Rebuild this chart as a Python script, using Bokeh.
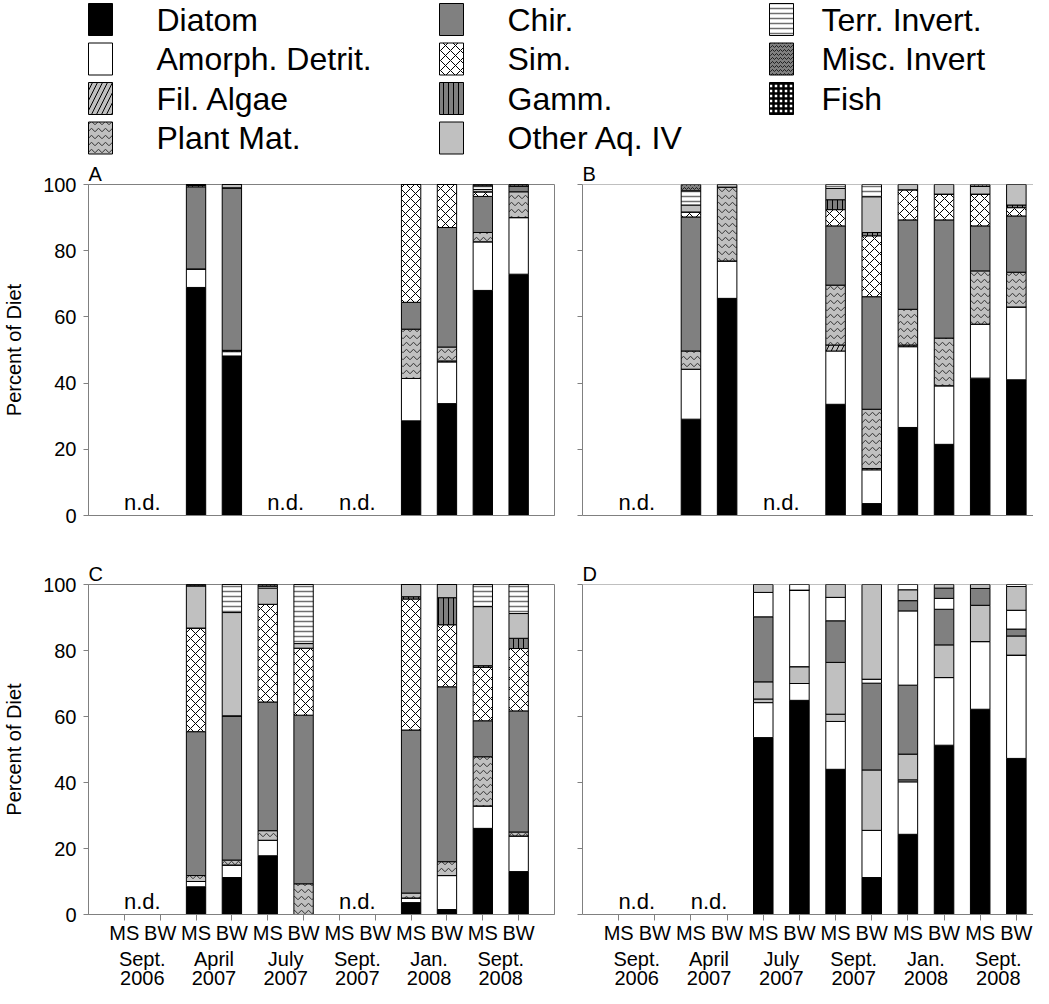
import math
from bokeh.plotting import figure
from bokeh.layouts import column, row
from bokeh.models import ColumnDataSource, Range1d, FixedTicker, LinearAxis, Span
from bokeh.embed import file_html
from bokeh.resources import INLINE
from bokeh.core.properties import value

FONT = "Liberation Sans"
GRAY = "#808080"

CATEGORIES = ["Diatom", "Amorph. Detrit.", "Fil. Algae", "Plant Mat.", "Chir.", "Sim.",
              "Gamm.", "Other Aq. IV", "Terr. Invert.", "Misc. Invert", "Fish"]
KEYS = ["diatom", "amorph", "fil", "plant", "chir", "sim", "gamm", "other", "terr", "misc", "fish"]
SITE_LABELS = ["MS", "BW"] * 6
MONTH_LABELS = ["Sept.", "April", "July", "Sept.", "Jan.", "Sept."]
YEAR_LABELS = ["2006", "2007", "2007", "2007", "2008", "2008"]
Y_TICKS = [0, 20, 40, 60, 80, 100]

# 12 slots: Sept06 MS, Sept06 BW, Apr07 MS, Apr07 BW, Jul07 MS, Jul07 BW,
#           Sept07 MS, Sept07 BW, Jan08 MS, Jan08 BW, Sept08 MS, Sept08 BW
# ---- Panel A ----
A_ND = [0, 2, 3]
A_DIATOM = [0, 0, 68.9, 48.2, 0, 0, 0, 0, 28.6, 33.8, 68.0, 72.9]
A_AMORPH = [0, 0, 5.6, 1.3, 0, 0, 0, 0, 12.8, 12.6, 14.7, 17.1]
A_FIL = [0, 0, 0, 0.4, 0, 0, 0, 0, 0, 0.3, 0, 0]
A_PLANT = [0, 0, 0, 0, 0, 0, 0, 0, 14.9, 4.2, 2.8, 7.8]
A_CHIR = [0, 0, 24.8, 49.1, 0, 0, 0, 0, 8.1, 36.1, 10.9, 1.7]
A_SIM = [0, 0, 0.4, 0, 0, 0, 0, 0, 35.6, 13.0, 1.4, 0]
A_GAMM = [0, 0, 0, 0, 0, 0, 0, 0, 0, 0, 0, 0]
A_OTHER = [0, 0, 0.3, 1.0, 0, 0, 0, 0, 0, 0, 0.7, 0]
A_TERR = [0, 0, 0, 0, 0, 0, 0, 0, 0, 0, 1.1, 0]
A_MISC = [0, 0, 0, 0, 0, 0, 0, 0, 0, 0, 0.4, 0.5]
A_FISH = [0, 0, 0, 0, 0, 0, 0, 0, 0, 0, 0, 0]

# ---- Panel B ----
B_ND = [0, 2]
B_DIATOM = [0, 0, 29.1, 65.6, 0, 0, 33.6, 3.6, 26.6, 21.5, 41.5, 41.0]
B_AMORPH = [0, 0, 15.1, 11.3, 0, 0, 16.1, 10.2, 24.4, 17.7, 16.3, 22.0]
B_FIL = [0, 0, 0, 0, 0, 0, 1.8, 0.4, 0.5, 0, 0, 0]
B_PLANT = [0, 0, 5.5, 22.3, 0, 0, 18.1, 17.9, 10.8, 14.4, 16.1, 10.5]
B_CHIR = [0, 0, 40.5, 0, 0, 0, 17.9, 34.0, 27.0, 35.7, 13.6, 17.0]
B_SIM = [0, 0, 1.5, 0, 0, 0, 4.9, 18.4, 9.1, 7.8, 9.6, 2.5]
B_GAMM = [0, 0, 0, 0, 0, 0, 3.0, 1.0, 0, 0, 0, 0.8]
B_OTHER = [0, 0, 2.1, 0.8, 0, 0, 3.4, 10.8, 1.6, 2.9, 2.3, 6.2]
B_TERR = [0, 0, 4.3, 0, 0, 0, 1.2, 3.7, 0, 0, 0, 0]
B_MISC = [0, 0, 1.9, 0, 0, 0, 0, 0, 0, 0, 0.6, 0]
B_FISH = [0, 0, 0, 0, 0, 0, 0, 0, 0, 0, 0, 0]

# ---- Panel C ----
C_ND = [0, 3]
C_DIATOM = [0, 0, 8.4, 11.2, 17.8, 0, 0, 0, 3.6, 1.5, 26.1, 13.0]
C_AMORPH = [0, 0, 1.6, 3.8, 4.7, 0, 0, 0, 1.4, 10.3, 6.8, 10.8]
C_FIL = [0, 0, 0, 0, 0, 0, 0, 0, 0, 0, 0, 0]
C_PLANT = [0, 0, 1.8, 1.5, 2.9, 9.3, 0, 0, 1.5, 4.2, 14.9, 1.2]
C_CHIR = [0, 0, 43.6, 43.7, 39.0, 51.1, 0, 0, 49.4, 53.0, 10.9, 36.7]
C_SIM = [0, 0, 31.4, 0, 29.6, 20.3, 0, 0, 39.7, 18.8, 16.2, 18.9]
C_GAMM = [0, 0, 0, 0, 0, 0, 0, 0, 0.7, 8.2, 0.5, 3.1]
C_OTHER = [0, 0, 12.8, 31.3, 4.9, 1.4, 0, 0, 3.7, 4.0, 17.9, 7.5]
C_TERR = [0, 0, 0, 8.5, 0.6, 17.9, 0, 0, 0, 0, 6.7, 8.8]
C_MISC = [0, 0, 0.4, 0, 0.5, 0, 0, 0, 0, 0, 0, 0]
C_FISH = [0, 0, 0, 0, 0, 0, 0, 0, 0, 0, 0, 0]

# ---- Panel D ----
D_ND = [0, 1]
D_DIATOM = [0, 0, 0, 0, 53.6, 64.9, 44.0, 11.2, 24.3, 51.3, 62.2, 47.3]
D_AMORPH = [0, 0, 0, 0, 10.6, 5.1, 14.5, 14.3, 15.9, 20.5, 20.5, 31.3]
D_FIL = [0, 0, 0, 0, 1.1, 0, 2.2, 0, 0.6, 0, 0, 0]
D_PLANT = [0, 0, 0, 0, 5.2, 5.1, 15.7, 18.3, 7.8, 9.9, 11.0, 5.8]
D_CHIR = [0, 0, 0, 0, 19.7, 0, 12.6, 26.3, 20.9, 10.8, 5.1, 2.1]
D_SIM = [0, 0, 0, 0, 7.4, 23.2, 7.1, 1.2, 22.5, 3.3, 0, 5.7]
D_GAMM = [0, 0, 0, 0, 0, 0, 0, 0, 3.1, 3.1, 0, 0]
D_OTHER = [0, 0, 0, 0, 2.4, 0, 3.9, 28.7, 3.3, 1.1, 1.2, 7.2]
D_TERR = [0, 0, 0, 0, 0, 1.7, 0, 0, 1.6, 0, 0, 0.6]
D_MISC = [0, 0, 0, 0, 0, 0, 0, 0, 0, 0, 0, 0]
D_FISH = [0, 0, 0, 0, 0, 0, 0, 0, 0, 0, 0, 0]

# ---- styles ----
FILL = ["black", "white", "#c0c0c0", "#c0c0c0", "#808080", "white", "#808080", "#c0c0c0", "white", "#808080", "white"]
HATCH = [None, None, "/", "v", None, "x", "|", None, "-", "v", "+"]
HATCH_COLOR = ["black", "black", "black", "#303030", "black", "black", "black", "black", "#707070", "#202020", "black"]
HATCH_SCALE = [12, 12, 10, 7, 12, 10, 5, 12, 5, 4, 5]
HATCH_WEIGHT = [1, 1, 1, 1, 1, 1, 1, 1, 1.5, 1, 2.5]

SLOTS = list(range(1, 13))
GROUP_CENTERS = [1.5 + 2 * g for g in range(6)]
SLOT_PX = 470 / 13.0


def make_panel(series, nd_groups, letter, show_ylabel, show_xlabels, width, height,
               b_left, b_right, b_top, b_bottom, hatched, boxed):
    frame_w = width - b_left - b_right
    p = figure(width=width, height=height, x_range=Range1d(0, frame_w / SLOT_PX),
               y_range=Range1d(0, 100), output_backend="svg", toolbar_location=None,
               min_border_left=b_left, min_border_right=b_right, min_border_top=b_top,
               min_border_bottom=b_bottom, x_axis_type=None, y_axis_type=None,
               outline_line_color=GRAY if boxed else None)
    p.title.text = letter
    p.title.text_font = FONT
    p.title.text_font_size = "20px"
    p.title.text_font_style = "normal"
    p.title.text_color = "black"
    p.title.align = "left"
    p.title.standoff = 0
    p.title.offset = 0

    data = {"x": SLOTS}
    for k, vals in zip(KEYS, series):
        data[k] = [float("nan") if (i // 2) in nd_groups else v for i, v in enumerate(vals)]
    src = ColumnDataSource(data)
    if hatched:
        p.vbar_stack(KEYS, x="x", width=0.54, source=src, fill_color=FILL, line_color="black",
                     line_width=1, hatch_pattern=HATCH, hatch_color=HATCH_COLOR,
                     hatch_scale=HATCH_SCALE, hatch_weight=HATCH_WEIGHT)
    else:
        p.vbar_stack(KEYS, x="x", width=0.54, source=src, fill_color=FILL, line_color="black",
                     line_width=1)
    if not boxed:
        p.add_layout(Span(location=100, dimension="width", line_color=GRAY, line_width=1))

    # y axis
    yax = LinearAxis(ticker=FixedTicker(ticks=Y_TICKS), axis_line_color=GRAY,
                     major_tick_line_color=GRAY, major_tick_out=5, major_tick_in=0,
                     minor_tick_line_color=None, major_label_text_font=FONT,
                     major_label_text_font_size="20px", major_label_standoff=7,
                     major_label_text_color="black")
    if show_ylabel:
        yax.axis_label = "Percent of Diet"
        yax.axis_label_text_font = FONT
        yax.axis_label_text_font_size = "20px"
        yax.axis_label_text_font_style = "normal"
        yax.axis_label_text_color = "black"
        yax.axis_label_standoff = 15
    else:
        yax.major_label_overrides = {t: "" for t in Y_TICKS}
    p.add_layout(yax, "left")

    # x axes
    if show_xlabels:
        ax1 = LinearAxis(ticker=FixedTicker(ticks=SLOTS),
                         major_label_overrides={s: lab for s, lab in zip(SLOTS, SITE_LABELS)},
                         axis_line_color=GRAY, major_tick_line_color=GRAY, major_tick_out=6,
                         major_tick_in=0, minor_tick_line_color=None,
                         major_label_text_font=FONT, major_label_text_font_size="20px",
                         major_label_standoff=1, major_label_text_color="black")
        p.add_layout(ax1, "below")
        for labels, standoff in ((MONTH_LABELS, 1), (YEAR_LABELS, -2)):
            ax = LinearAxis(ticker=FixedTicker(ticks=GROUP_CENTERS),
                            major_label_overrides={c: lab for c, lab in zip(GROUP_CENTERS, labels)},
                            axis_line_color=None, major_tick_line_color=None, major_tick_out=0,
                            major_tick_in=0, minor_tick_line_color=None,
                            major_label_text_font=FONT, major_label_text_font_size="20px",
                            major_label_standoff=standoff, major_label_text_color="black")
            p.add_layout(ax, "below")
    else:
        ax = LinearAxis(ticker=FixedTicker(ticks=[]), axis_line_color=GRAY,
                        major_tick_line_color=None, minor_tick_line_color=None,
                        major_label_text_font_size="0px")
        p.add_layout(ax, "below")

    # n.d. labels
    nd_x = [GROUP_CENTERS[g] for g in nd_groups]
    p.text(x=nd_x, y=[0.3] * len(nd_x), text=["n.d."] * len(nd_x), text_align="center",
           text_baseline="bottom", text_font=value(FONT), text_font_size="22px",
           text_color="black")
    return p


# ---- legend ----
leg = figure(width=1033, height=158, x_range=Range1d(0, 1033), y_range=Range1d(158, 0),
             x_axis_type=None, y_axis_type=None, output_backend="svg", toolbar_location=None,
             min_border=0, outline_line_color=None)
SW_LEFT = [88, 439, 769]
TXT_LEFT = [156, 507, 821]
ROW_Y = [19, 58.5, 98, 137.5]
for i, name in enumerate(CATEGORIES):
    c, r = divmod(i, 4)
    leg.rect(x=[SW_LEFT[c] + 12], y=[ROW_Y[r]], width=24, height=32, fill_color=FILL[i],
             line_color="black", line_width=1, hatch_pattern=HATCH[i], hatch_color=HATCH_COLOR[i],
             hatch_scale=HATCH_SCALE[i], hatch_weight=HATCH_WEIGHT[i])
    leg.text(x=[TXT_LEFT[c]], y=[ROW_Y[r]], text=[name], text_baseline="middle",
             text_font=value(FONT), text_font_size="32px", text_color="black")

SER_A = [A_DIATOM, A_AMORPH, A_FIL, A_PLANT, A_CHIR, A_SIM, A_GAMM, A_OTHER, A_TERR, A_MISC, A_FISH]
SER_B = [B_DIATOM, B_AMORPH, B_FIL, B_PLANT, B_CHIR, B_SIM, B_GAMM, B_OTHER, B_TERR, B_MISC, B_FISH]
SER_C = [C_DIATOM, C_AMORPH, C_FIL, C_PLANT, C_CHIR, C_SIM, C_GAMM, C_OTHER, C_TERR, C_MISC, C_FISH]
SER_D = [D_DIATOM, D_AMORPH, D_FIL, D_PLANT, D_CHIR, D_SIM, D_GAMM, D_OTHER, D_TERR, D_MISC, D_FISH]

pA = make_panel(SER_A, A_ND, "A", True, False, 564, 400, 84, 10, 26, 43, True, True)
pB = make_panel(SER_B, B_ND, "B", False, False, 469, 400, 18, 0, 26, 43, True, False)
pC = make_panel(SER_C, C_ND, "C", True, True, 564, 430, 84, 10, 26, 74, True, True)
pD = make_panel(SER_D, D_ND, "D", False, True, 469, 430, 18, 0, 26, 74, False, False)

layout = column(leg, row(pA, pB), row(pC, pD))
open("out.html", "w").write(file_html(layout, INLINE))
